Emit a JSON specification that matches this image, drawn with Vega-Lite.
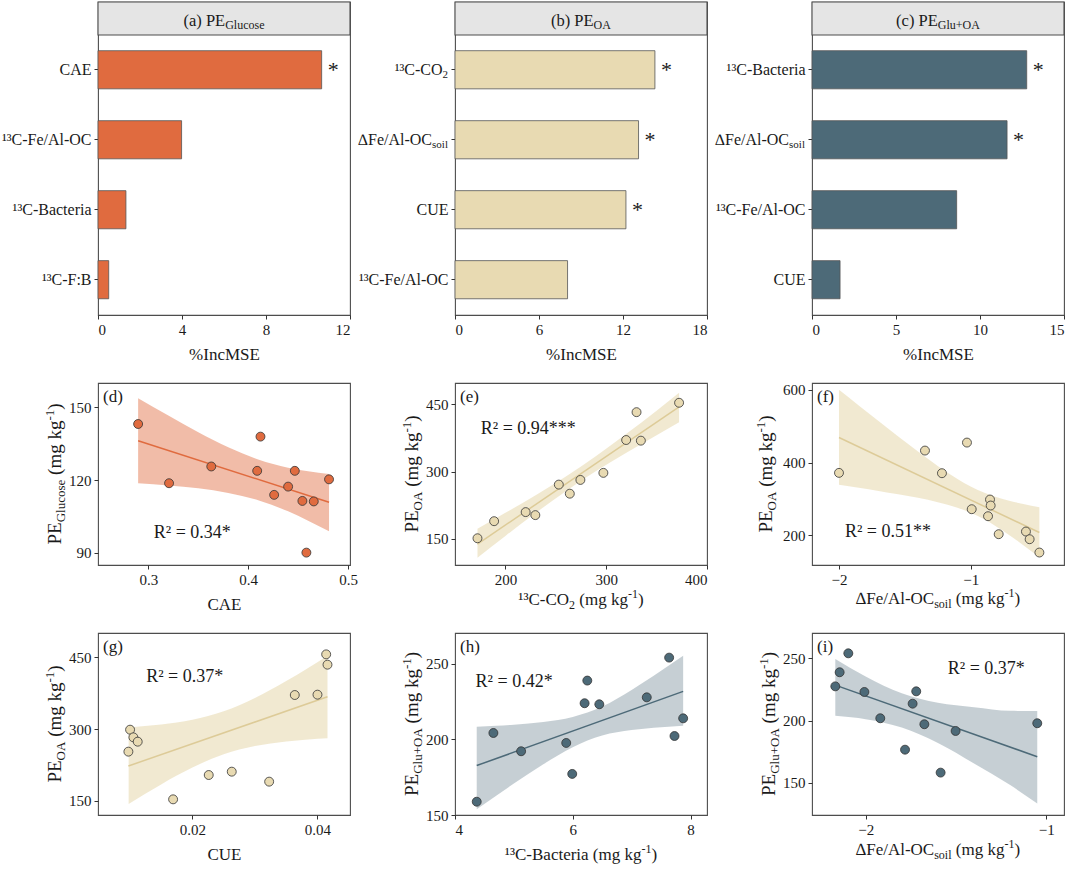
{
"$schema": "https://vega.github.io/schema/vega-lite/v6.json",
"background": "white",
"padding": {"left": 0, "top": 0, "right": 5, "bottom": 5},
"columns": 3,
"bounds": "flush",
"align": "each",
"spacing": {"row": 68, "column": 105},
"config": {
  "font": "Liberation Serif",
  "view": {"stroke": "#4d4d4d", "strokeWidth": 1.1},
  "axis": {"domain": false, "grid": false, "tickColor": "#333333", "tickSize": 4, "tickWidth": 1, "labelFontSize": 15, "labelColor": "#1a1a1a", "labelPadding": 3, "titleFontSize": 17, "titleFontWeight": "normal", "titleColor": "#1a1a1a", "titlePadding": 9},
  "text": {"color": "#1a1a1a"}
},
"concat": [
{
 "width": 252, "height": 313,
 "layer": [
  {"data": {"values": [{"t1": "(a) PE", "t2": "Glucose"}]},
   "layer": [
    {"mark": {"type": "rect", "fill": "#e5e5e5", "stroke": "#4d4d4d", "strokeWidth": 1.1},
     "encoding": {"x": {"datum": 0}, "x2": {"datum": 12}, "y": {"datum": 0, "scale": {"domain": [-8.485, 1], "nice": false, "zero": false}, "axis": null}, "y2": {"datum": 1}}},
    {"mark": {"type": "text", "align": "left", "baseline": "alphabetic", "fontSize": 16.5, "dx": -40.5, "dy": 7.5},
     "encoding": {"x": {"datum": 6}, "y": {"datum": 0.5}, "text": {"field": "t1"}}},
    {"mark": {"type": "text", "align": "left", "baseline": "alphabetic", "fontSize": 12, "dx": 1.2, "dy": 10.5},
     "encoding": {"x": {"datum": 6}, "y": {"datum": 0.5}, "text": {"field": "t2"}}}
   ]},
  {"data": {"values": [
     {"v": "CAE", "sub": "", "val": 10.65, "sig": "*"},
     {"v": "¹³C-Fe/Al-OC", "sub": "", "val": 3.98, "sig": ""},
     {"v": "¹³C-Bacteria", "sub": "", "val": 1.33, "sig": ""},
     {"v": "¹³C-F:B", "sub": "", "val": 0.51, "sig": ""}]},
   "layer": [
    {"encoding": {
       "x": {"field": "val", "type": "quantitative", "scale": {"domain": [0, 12], "nice": false}, "axis": {"values": [0, 4, 8, 12], "title": "%IncMSE"}},
       "y": {"field": "v", "type": "nominal", "scale": {"domain": ["CAE", "¹³C-Fe/Al-OC", "¹³C-Bacteria", "¹³C-F:B"], "paddingInner": 0.455, "paddingOuter": 0.464, "align": 0.75}, "axis": {"title": null, "orient": "left", "labelFontSize": 16}}
     },
     "layer": [
      {"mark": {"type": "bar", "fill": "#E06B3F", "stroke": "#555555", "strokeWidth": 0.8}},
      {"transform": [{"filter": "datum.sig != ''"}],
       "mark": {"type": "text", "align": "center", "baseline": "middle", "fontSize": 22, "dx": 11.5, "dy": 0.5},
       "encoding": {"text": {"field": "sig"}}}
     ]}
   ]}
 ],
 "resolve": {"scale": {"y": "independent"}}
},
{
 "width": 252, "height": 313,
 "layer": [
  {"data": {"values": [{"t1": "(b) PE", "t2": "OA"}]},
   "layer": [
    {"mark": {"type": "rect", "fill": "#e5e5e5", "stroke": "#4d4d4d", "strokeWidth": 1.1},
     "encoding": {"x": {"datum": 0}, "x2": {"datum": 18}, "y": {"datum": 0, "scale": {"domain": [-8.485, 1], "nice": false, "zero": false}, "axis": null}, "y2": {"datum": 1}}},
    {"mark": {"type": "text", "align": "left", "baseline": "alphabetic", "fontSize": 16.5, "dx": -30, "dy": 7.5},
     "encoding": {"x": {"datum": 9}, "y": {"datum": 0.5}, "text": {"field": "t1"}}},
    {"mark": {"type": "text", "align": "left", "baseline": "alphabetic", "fontSize": 12, "dx": 12.6, "dy": 10.5},
     "encoding": {"x": {"datum": 9}, "y": {"datum": 0.5}, "text": {"field": "t2"}}}
   ]},
  {"data": {"values": [
     {"v": "¹³C-CO", "sub": "2", "val": 14.28, "sig": "*"},
     {"v": "∆Fe/Al-OC", "sub": "soil", "val": 13.11, "sig": "*"},
     {"v": "CUE", "sub": "", "val": 12.21, "sig": "*"},
     {"v": "¹³C-Fe/Al-OC", "sub": "", "val": 8.04, "sig": ""}]},
   "layer": [
    {"encoding": {
       "x": {"field": "val", "type": "quantitative", "scale": {"domain": [0, 18], "nice": false}, "axis": {"values": [0, 6, 12, 18], "title": "%IncMSE"}},
       "y": {"field": "v", "type": "nominal", "scale": {"domain": ["¹³C-CO", "∆Fe/Al-OC", "CUE", "¹³C-Fe/Al-OC"], "paddingInner": 0.455, "paddingOuter": 0.464, "align": 0.75},
             "axis": {"title": null, "orient": "left", "labelFontSize": 16, "labelPadding": {"condition": [{"test": "datum.value === '∆Fe/Al-OC'", "value": 19.5}, {"test": "datum.value === '¹³C-CO'", "value": 9}], "value": 3}}}
     },
     "layer": [
      {"mark": {"type": "bar", "fill": "#E8DAB2", "stroke": "#555555", "strokeWidth": 0.8}},
      {"transform": [{"filter": "datum.sig != ''"}],
       "mark": {"type": "text", "align": "center", "baseline": "middle", "fontSize": 22, "dx": 11.5, "dy": 0.5},
       "encoding": {"text": {"field": "sig"}}}
     ]},
    {"transform": [{"filter": "datum.sub != ''"}],
     "mark": {"type": "text", "align": "right", "baseline": "middle", "fontSize": 11, "dx": -7, "dy": 5.5},
     "encoding": {"x": {"datum": 0}, "y": {"field": "v", "type": "nominal"}, "text": {"field": "sub"}}}
   ]}
 ],
 "resolve": {"scale": {"y": "independent"}}
},
{
 "width": 252, "height": 313,
 "layer": [
  {"data": {"values": [{"t1": "(c) PE", "t2": "Glu+OA"}]},
   "layer": [
    {"mark": {"type": "rect", "fill": "#e5e5e5", "stroke": "#4d4d4d", "strokeWidth": 1.1},
     "encoding": {"x": {"datum": 0}, "x2": {"datum": 15}, "y": {"datum": 0, "scale": {"domain": [-8.485, 1], "nice": false, "zero": false}, "axis": null}, "y2": {"datum": 1}}},
    {"mark": {"type": "text", "align": "left", "baseline": "alphabetic", "fontSize": 16.5, "dx": -41.9, "dy": 7.5},
     "encoding": {"x": {"datum": 7.5}, "y": {"datum": 0.5}, "text": {"field": "t1"}}},
    {"mark": {"type": "text", "align": "left", "baseline": "alphabetic", "fontSize": 12, "dx": -0.2, "dy": 10.5},
     "encoding": {"x": {"datum": 7.5}, "y": {"datum": 0.5}, "text": {"field": "t2"}}}
   ]},
  {"data": {"values": [
     {"v": "¹³C-Bacteria", "sub": "", "val": 12.78, "sig": "*"},
     {"v": "∆Fe/Al-OC", "sub": "soil", "val": 11.61, "sig": "*"},
     {"v": "¹³C-Fe/Al-OC", "sub": "", "val": 8.61, "sig": ""},
     {"v": "CUE", "sub": "", "val": 1.67, "sig": ""}]},
   "layer": [
    {"encoding": {
       "x": {"field": "val", "type": "quantitative", "scale": {"domain": [0, 15], "nice": false}, "axis": {"values": [0, 5, 10, 15], "title": "%IncMSE"}},
       "y": {"field": "v", "type": "nominal", "scale": {"domain": ["¹³C-Bacteria", "∆Fe/Al-OC", "¹³C-Fe/Al-OC", "CUE"], "paddingInner": 0.455, "paddingOuter": 0.464, "align": 0.75},
             "axis": {"title": null, "orient": "left", "labelFontSize": 16, "labelPadding": {"condition": [{"test": "datum.value === '∆Fe/Al-OC'", "value": 19.5}], "value": 3}}}
     },
     "layer": [
      {"mark": {"type": "bar", "fill": "#4D6A78", "stroke": "#555555", "strokeWidth": 0.8}},
      {"transform": [{"filter": "datum.sig != ''"}],
       "mark": {"type": "text", "align": "center", "baseline": "middle", "fontSize": 22, "dx": 11.5, "dy": 0.5},
       "encoding": {"text": {"field": "sig"}}}
     ]},
    {"transform": [{"filter": "datum.sub != ''"}],
     "mark": {"type": "text", "align": "right", "baseline": "middle", "fontSize": 11, "dx": -7, "dy": 5.5},
     "encoding": {"x": {"datum": 0}, "y": {"field": "v", "type": "nominal"}, "text": {"field": "sub"}}}
   ]}
 ],
 "resolve": {"scale": {"y": "independent"}}
},
{
 "width": 252, "height": 182,
 "layer": [
  {"encoding": {
     "x": {"field": "x", "type": "quantitative", "scale": {"domain": [0.2495, 0.502], "nice": false, "zero": false}, "axis": {"values": [0.3, 0.4, 0.5], "format": ".1f"}, "title": "CAE"},
     "y": {"field": "y", "type": "quantitative", "scale": {"domain": [85, 160], "nice": false, "zero": false}, "axis": {"values": [90, 120, 150]}, "title": null}
   },
   "layer": [
    {"data": {"values": [
      {"x": 0.2897, "y": 118.7, "hi": 153.7}, {"x": 0.32, "y": 117.8, "hi": 146.6}, {"x": 0.35, "y": 116.6, "hi": 139.7}, {"x": 0.38, "y": 114.7, "hi": 133.5},
      {"x": 0.41, "y": 111.7, "hi": 128.5}, {"x": 0.44, "y": 107.1, "hi": 125.1}, {"x": 0.46, "y": 103.2, "hi": 123.6}, {"x": 0.481, "y": 98.9, "hi": 122.5}]},
     "mark": {"type": "area", "color": "#E06B3F", "opacity": 0.45, "interpolate": "monotone"},
     "encoding": {"y2": {"field": "hi"}}},
    {"data": {"values": [
      {"x": 0.2897, "y": 143.1}, {"x": 0.3207, "y": 118.7}, {"x": 0.363, "y": 125.6}, {"x": 0.4123, "y": 137.9}, {"x": 0.409, "y": 123.8}, {"x": 0.426, "y": 113.9},
      {"x": 0.44, "y": 117.3}, {"x": 0.4467, "y": 123.8}, {"x": 0.4543, "y": 111.4}, {"x": 0.4657, "y": 111.2}, {"x": 0.481, "y": 120.3}, {"x": 0.4583, "y": 90.1}]},
     "layer": [
      {"transform": [{"regression": "y", "on": "x"}], "mark": {"type": "line", "color": "#E06B3F", "strokeWidth": 1.5}},
      {"mark": {"type": "circle", "fill": "#E06B3F", "stroke": "#333333", "strokeWidth": 0.8, "size": 80, "opacity": 1}}
     ]}
   ]},
  {"data": {"values": [{"t": "(d)"}]}, "mark": {"type": "text", "align": "left", "baseline": "top", "fontSize": 17, "dx": 5, "dy": 6}, "encoding": {"x": {"datum": 0.2495}, "y": {"datum": 160}, "text": {"field": "t"}}},
  {"data": {"values": [{"t": "R² = 0.34*"}]}, "mark": {"type": "text", "align": "center", "baseline": "middle", "fontSize": 18}, "encoding": {"x": {"datum": 0.344}, "y": {"datum": 98}, "text": {"field": "t"}}},
  {"data": {"values": [{"t": "PE"}]}, "mark": {"type": "text", "angle": 270, "align": "left", "baseline": "alphabetic", "fontSize": 19, "dx": -70.5, "dy": -37}, "encoding": {"x": {"datum": 0.2495}, "y": {"datum": 122.5}, "text": {"field": "t"}}},
  {"data": {"values": [{"t": "Glucose"}]}, "mark": {"type": "text", "angle": 270, "align": "left", "baseline": "alphabetic", "fontSize": 13, "dx": -48.3, "dy": -33}, "encoding": {"x": {"datum": 0.2495}, "y": {"datum": 122.5}, "text": {"field": "t"}}},
  {"data": {"values": [{"t": "(mg kg"}]}, "mark": {"type": "text", "angle": 270, "align": "left", "baseline": "alphabetic", "fontSize": 19, "dx": -0.95, "dy": -37}, "encoding": {"x": {"datum": 0.2495}, "y": {"datum": 122.5}, "text": {"field": "t"}}},
  {"data": {"values": [{"t": "-1"}]}, "mark": {"type": "text", "angle": 270, "align": "left", "baseline": "alphabetic", "fontSize": 13, "dx": 53.4, "dy": -44.5}, "encoding": {"x": {"datum": 0.2495}, "y": {"datum": 122.5}, "text": {"field": "t"}}},
  {"data": {"values": [{"t": ")"}]}, "mark": {"type": "text", "angle": 270, "align": "left", "baseline": "alphabetic", "fontSize": 19, "dx": 64.2, "dy": -37}, "encoding": {"x": {"datum": 0.2495}, "y": {"datum": 122.5}, "text": {"field": "t"}}}
 ]
},
{
 "width": 252, "height": 182,
 "layer": [
  {"encoding": {
     "x": {"field": "x", "type": "quantitative", "scale": {"domain": [150, 400], "nice": false, "zero": false}, "axis": {"values": [200, 300, 400]}, "title": null},
     "y": {"field": "y", "type": "quantitative", "scale": {"domain": [92, 497], "nice": false, "zero": false}, "axis": {"values": [150, 300, 450]}, "title": null}
   },
   "layer": [
    {"data": {"values": [
      {"x": 172.3, "y": 108.2, "hi": 172.4}, {"x": 200, "y": 156.8, "hi": 208.0}, {"x": 230, "y": 207.8, "hi": 247.2}, {"x": 260, "y": 256.3, "hi": 288.9},
      {"x": 290, "y": 300.9, "hi": 334.5}, {"x": 320, "y": 341.8, "hi": 383.8}, {"x": 350, "y": 380.6, "hi": 435.2}, {"x": 372.3, "y": 409.9, "hi": 475.1}]},
     "mark": {"type": "area", "color": "#E8DAB2", "opacity": 0.6, "interpolate": "monotone"},
     "encoding": {"y2": {"field": "hi"}}},
    {"data": {"values": [
      {"x": 172.3, "y": 151.5}, {"x": 188.8, "y": 189.5}, {"x": 220.1, "y": 209.7}, {"x": 229.7, "y": 203.0}, {"x": 253.0, "y": 270.9}, {"x": 263.9, "y": 250.7},
      {"x": 274.4, "y": 281.3}, {"x": 297.2, "y": 297.0}, {"x": 319.8, "y": 370.1}, {"x": 330.1, "y": 432.1}, {"x": 334.4, "y": 368.7}, {"x": 372.3, "y": 453.0}]},
     "layer": [
      {"transform": [{"regression": "y", "on": "x"}], "mark": {"type": "line", "color": "#DDCB98", "strokeWidth": 1.5}},
      {"mark": {"type": "circle", "fill": "#E8DAB2", "stroke": "#333333", "strokeWidth": 0.8, "size": 80, "opacity": 1}}
     ]}
   ]},
  {"data": {"values": [{"t": "(e)"}]}, "mark": {"type": "text", "align": "left", "baseline": "top", "fontSize": 17, "dx": 5, "dy": 6}, "encoding": {"x": {"datum": 150}, "y": {"datum": 497}, "text": {"field": "t"}}},
  {"data": {"values": [{"t": "R² = 0.94***"}]}, "mark": {"type": "text", "align": "center", "baseline": "middle", "fontSize": 18}, "encoding": {"x": {"datum": 222.7}, "y": {"datum": 395.5}, "text": {"field": "t"}}},
  {"data": {"values": [{"t": "¹³C-CO"}]}, "mark": {"type": "text", "align": "left", "baseline": "alphabetic", "fontSize": 17, "dx": -62.7, "dy": 40}, "encoding": {"x": {"datum": 275}, "y": {"datum": 92}, "text": {"field": "t"}}},
  {"data": {"values": [{"t": "2"}]}, "mark": {"type": "text", "align": "left", "baseline": "alphabetic", "fontSize": 12, "dx": -11.9, "dy": 44}, "encoding": {"x": {"datum": 275}, "y": {"datum": 92}, "text": {"field": "t"}}},
  {"data": {"values": [{"t": "(mg kg"}]}, "mark": {"type": "text", "align": "left", "baseline": "alphabetic", "fontSize": 17, "dx": -1.65, "dy": 40}, "encoding": {"x": {"datum": 275}, "y": {"datum": 92}, "text": {"field": "t"}}},
  {"data": {"values": [{"t": "-1"}]}, "mark": {"type": "text", "align": "left", "baseline": "alphabetic", "fontSize": 12, "dx": 47, "dy": 33}, "encoding": {"x": {"datum": 275}, "y": {"datum": 92}, "text": {"field": "t"}}},
  {"data": {"values": [{"t": ")"}]}, "mark": {"type": "text", "align": "left", "baseline": "alphabetic", "fontSize": 17, "dx": 57, "dy": 40}, "encoding": {"x": {"datum": 275}, "y": {"datum": 92}, "text": {"field": "t"}}},
  {"data": {"values": [{"t": "PE"}]}, "mark": {"type": "text", "angle": 270, "align": "left", "baseline": "alphabetic", "fontSize": 19, "dx": -58.6, "dy": -37}, "encoding": {"x": {"datum": 150}, "y": {"datum": 294.5}, "text": {"field": "t"}}},
  {"data": {"values": [{"t": "OA"}]}, "mark": {"type": "text", "angle": 270, "align": "left", "baseline": "alphabetic", "fontSize": 13, "dx": -36.4, "dy": -33}, "encoding": {"x": {"datum": 150}, "y": {"datum": 294.5}, "text": {"field": "t"}}},
  {"data": {"values": [{"t": "(mg kg"}]}, "mark": {"type": "text", "angle": 270, "align": "left", "baseline": "alphabetic", "fontSize": 19, "dx": -12.85, "dy": -37}, "encoding": {"x": {"datum": 150}, "y": {"datum": 294.5}, "text": {"field": "t"}}},
  {"data": {"values": [{"t": "-1"}]}, "mark": {"type": "text", "angle": 270, "align": "left", "baseline": "alphabetic", "fontSize": 13, "dx": 41.5, "dy": -44.5}, "encoding": {"x": {"datum": 150}, "y": {"datum": 294.5}, "text": {"field": "t"}}},
  {"data": {"values": [{"t": ")"}]}, "mark": {"type": "text", "angle": 270, "align": "left", "baseline": "alphabetic", "fontSize": 19, "dx": 52.3, "dy": -37}, "encoding": {"x": {"datum": 150}, "y": {"datum": 294.5}, "text": {"field": "t"}}}
 ]
},
{
 "width": 252, "height": 182,
 "layer": [
  {"encoding": {
     "x": {"field": "x", "type": "quantitative", "scale": {"domain": [-2.205, -0.291], "nice": false, "zero": false}, "axis": {"values": [-2, -1], "format": "d"}, "title": null},
     "y": {"field": "y", "type": "quantitative", "scale": {"domain": [118, 619], "nice": false, "zero": false}, "axis": {"values": [200, 400, 600]}, "title": null}
   },
   "layer": [
    {"data": {"values": [
      {"x": -2.0, "y": 339.0, "hi": 600.4}, {"x": -1.85, "y": 330.6, "hi": 557.2}, {"x": -1.7, "y": 322.0, "hi": 514.4}, {"x": -1.55, "y": 312.8, "hi": 472.0},
      {"x": -1.4, "y": 302.8, "hi": 430.6}, {"x": -1.25, "y": 291.0, "hi": 390.8}, {"x": -1.1, "y": 275.8, "hi": 354.6}, {"x": -1.0, "y": 262.0, "hi": 334.0},
      {"x": -0.9, "y": 244.3, "hi": 317.3}, {"x": -0.8, "y": 222.9, "hi": 304.5}, {"x": -0.7, "y": 198.8, "hi": 294.2}, {"x": -0.6, "y": 172.7, "hi": 285.9},
      {"x": -0.478, "y": 139.5, "hi": 277.1}]},
     "mark": {"type": "area", "color": "#E8DAB2", "opacity": 0.6, "interpolate": "monotone"},
     "encoding": {"y2": {"field": "hi"}}},
    {"data": {"values": [
      {"x": -2.0, "y": 371.6}, {"x": -1.347, "y": 433.0}, {"x": -1.218, "y": 370.7}, {"x": -1.028, "y": 455.0}, {"x": -0.992, "y": 271.6}, {"x": -0.853, "y": 298.2},
      {"x": -0.848, "y": 281.7}, {"x": -0.868, "y": 252.3}, {"x": -0.787, "y": 202.8}, {"x": -0.58, "y": 210.1}, {"x": -0.552, "y": 189.0}, {"x": -0.478, "y": 152.3}]},
     "layer": [
      {"transform": [{"regression": "y", "on": "x"}], "mark": {"type": "line", "color": "#DDCB98", "strokeWidth": 1.5}},
      {"mark": {"type": "circle", "fill": "#E8DAB2", "stroke": "#333333", "strokeWidth": 0.8, "size": 80, "opacity": 1}}
     ]}
   ]},
  {"data": {"values": [{"t": "(f)"}]}, "mark": {"type": "text", "align": "left", "baseline": "top", "fontSize": 17, "dx": 5, "dy": 6}, "encoding": {"x": {"datum": -2.205}, "y": {"datum": 619}, "text": {"field": "t"}}},
  {"data": {"values": [{"t": "R² = 0.51**"}]}, "mark": {"type": "text", "align": "center", "baseline": "middle", "fontSize": 18}, "encoding": {"x": {"datum": -1.628}, "y": {"datum": 208.3}, "text": {"field": "t"}}},
  {"data": {"values": [{"t": "∆Fe/Al-OC"}]}, "mark": {"type": "text", "align": "left", "baseline": "alphabetic", "fontSize": 17, "dx": -82.2, "dy": 39}, "encoding": {"x": {"datum": -1.248}, "y": {"datum": 118}, "text": {"field": "t"}}},
  {"data": {"values": [{"t": "soil"}]}, "mark": {"type": "text", "align": "left", "baseline": "alphabetic", "fontSize": 12, "dx": -3.8, "dy": 43}, "encoding": {"x": {"datum": -1.248}, "y": {"datum": 118}, "text": {"field": "t"}}},
  {"data": {"values": [{"t": "(mg kg"}]}, "mark": {"type": "text", "align": "left", "baseline": "alphabetic", "fontSize": 17, "dx": 17.75, "dy": 39}, "encoding": {"x": {"datum": -1.248}, "y": {"datum": 118}, "text": {"field": "t"}}},
  {"data": {"values": [{"t": "-1"}]}, "mark": {"type": "text", "align": "left", "baseline": "alphabetic", "fontSize": 12, "dx": 66.4, "dy": 32}, "encoding": {"x": {"datum": -1.248}, "y": {"datum": 118}, "text": {"field": "t"}}},
  {"data": {"values": [{"t": ")"}]}, "mark": {"type": "text", "align": "left", "baseline": "alphabetic", "fontSize": 17, "dx": 76.4, "dy": 39}, "encoding": {"x": {"datum": -1.248}, "y": {"datum": 118}, "text": {"field": "t"}}},
  {"data": {"values": [{"t": "PE"}]}, "mark": {"type": "text", "angle": 270, "align": "left", "baseline": "alphabetic", "fontSize": 19, "dx": -58.6, "dy": -40}, "encoding": {"x": {"datum": -2.205}, "y": {"datum": 368.5}, "text": {"field": "t"}}},
  {"data": {"values": [{"t": "OA"}]}, "mark": {"type": "text", "angle": 270, "align": "left", "baseline": "alphabetic", "fontSize": 13, "dx": -36.4, "dy": -36}, "encoding": {"x": {"datum": -2.205}, "y": {"datum": 368.5}, "text": {"field": "t"}}},
  {"data": {"values": [{"t": "(mg kg"}]}, "mark": {"type": "text", "angle": 270, "align": "left", "baseline": "alphabetic", "fontSize": 19, "dx": -12.85, "dy": -40}, "encoding": {"x": {"datum": -2.205}, "y": {"datum": 368.5}, "text": {"field": "t"}}},
  {"data": {"values": [{"t": "-1"}]}, "mark": {"type": "text", "angle": 270, "align": "left", "baseline": "alphabetic", "fontSize": 13, "dx": 41.5, "dy": -47.5}, "encoding": {"x": {"datum": -2.205}, "y": {"datum": 368.5}, "text": {"field": "t"}}},
  {"data": {"values": [{"t": ")"}]}, "mark": {"type": "text", "angle": 270, "align": "left", "baseline": "alphabetic", "fontSize": 19, "dx": 52.3, "dy": -40}, "encoding": {"x": {"datum": -2.205}, "y": {"datum": 368.5}, "text": {"field": "t"}}}
 ]
},
{
 "width": 252, "height": 182,
 "layer": [
  {"encoding": {
     "x": {"field": "x", "type": "quantitative", "scale": {"domain": [0.0049, 0.0452], "nice": false, "zero": false}, "axis": {"values": [0.02, 0.04], "format": ".2f"}, "title": "CUE"},
     "y": {"field": "y", "type": "quantitative", "scale": {"domain": [120, 501], "nice": false, "zero": false}, "axis": {"values": [150, 300, 450]}, "title": null}
   },
   "layer": [
    {"data": {"values": [
      {"x": 0.0098, "y": 142.9, "hi": 303.7}, {"x": 0.0124, "y": 163.8, "hi": 306.2}, {"x": 0.015, "y": 184.1, "hi": 309.5}, {"x": 0.0175, "y": 202.5, "hi": 313.7},
      {"x": 0.02, "y": 219.5, "hi": 319.3}, {"x": 0.025, "y": 247.0, "hi": 337.0}, {"x": 0.03, "y": 264.4, "hi": 364.8}, {"x": 0.035, "y": 274.0, "hi": 400.4},
      {"x": 0.0385, "y": 278.2, "hi": 427.8}, {"x": 0.0416, "y": 280.7, "hi": 453.3}]},
     "mark": {"type": "area", "color": "#E8DAB2", "opacity": 0.6, "interpolate": "monotone"},
     "encoding": {"y2": {"field": "hi"}}},
    {"data": {"values": [
      {"x": 0.01003, "y": 298.6}, {"x": 0.01056, "y": 282.6}, {"x": 0.01125, "y": 273.5}, {"x": 0.00976, "y": 252.6}, {"x": 0.01691, "y": 152.8}, {"x": 0.02261, "y": 203.7},
      {"x": 0.02629, "y": 210.7}, {"x": 0.03227, "y": 189.8}, {"x": 0.03637, "y": 371.2}, {"x": 0.04, "y": 371.9}, {"x": 0.04139, "y": 456.3}, {"x": 0.0416, "y": 434.7}]},
     "layer": [
      {"transform": [{"regression": "y", "on": "x"}], "mark": {"type": "line", "color": "#DDCB98", "strokeWidth": 1.5}},
      {"mark": {"type": "circle", "fill": "#E8DAB2", "stroke": "#333333", "strokeWidth": 0.8, "size": 80, "opacity": 1}}
     ]}
   ]},
  {"data": {"values": [{"t": "(g)"}]}, "mark": {"type": "text", "align": "left", "baseline": "top", "fontSize": 17, "dx": 5, "dy": 6}, "encoding": {"x": {"datum": 0.0049}, "y": {"datum": 501}, "text": {"field": "t"}}},
  {"data": {"values": [{"t": "R² = 0.37*"}]}, "mark": {"type": "text", "align": "center", "baseline": "middle", "fontSize": 18}, "encoding": {"x": {"datum": 0.01877}, "y": {"datum": 408.1}, "text": {"field": "t"}}},
  {"data": {"values": [{"t": "PE"}]}, "mark": {"type": "text", "angle": 270, "align": "left", "baseline": "alphabetic", "fontSize": 19, "dx": -58.6, "dy": -37}, "encoding": {"x": {"datum": 0.0049}, "y": {"datum": 310.5}, "text": {"field": "t"}}},
  {"data": {"values": [{"t": "OA"}]}, "mark": {"type": "text", "angle": 270, "align": "left", "baseline": "alphabetic", "fontSize": 13, "dx": -36.4, "dy": -33}, "encoding": {"x": {"datum": 0.0049}, "y": {"datum": 310.5}, "text": {"field": "t"}}},
  {"data": {"values": [{"t": "(mg kg"}]}, "mark": {"type": "text", "angle": 270, "align": "left", "baseline": "alphabetic", "fontSize": 19, "dx": -12.85, "dy": -37}, "encoding": {"x": {"datum": 0.0049}, "y": {"datum": 310.5}, "text": {"field": "t"}}},
  {"data": {"values": [{"t": "-1"}]}, "mark": {"type": "text", "angle": 270, "align": "left", "baseline": "alphabetic", "fontSize": 13, "dx": 41.5, "dy": -44.5}, "encoding": {"x": {"datum": 0.0049}, "y": {"datum": 310.5}, "text": {"field": "t"}}},
  {"data": {"values": [{"t": ")"}]}, "mark": {"type": "text", "angle": 270, "align": "left", "baseline": "alphabetic", "fontSize": 19, "dx": 52.3, "dy": -37}, "encoding": {"x": {"datum": 0.0049}, "y": {"datum": 310.5}, "text": {"field": "t"}}}
 ]
},
{
 "width": 252, "height": 182,
 "layer": [
  {"encoding": {
     "x": {"field": "x", "type": "quantitative", "scale": {"domain": [4, 8.28], "nice": false, "zero": false}, "axis": {"values": [4, 6, 8], "format": "d"}, "title": null},
     "y": {"field": "y", "type": "quantitative", "scale": {"domain": [150, 270.5], "nice": false, "zero": false}, "axis": {"values": [150, 200, 250]}, "title": null}
   },
   "layer": [
    {"data": {"values": [
      {"x": 4.369, "y": 153.8, "hi": 208.4}, {"x": 4.7, "y": 162.7, "hi": 209.1}, {"x": 5.0, "y": 170.8, "hi": 209.8}, {"x": 5.5, "y": 183.6, "hi": 211.6},
      {"x": 6.0, "y": 194.9, "hi": 214.9}, {"x": 6.5, "y": 202.6, "hi": 221.8}, {"x": 7.0, "y": 206.2, "hi": 232.8}, {"x": 7.5, "y": 208.1, "hi": 245.5},
      {"x": 7.875, "y": 209.1, "hi": 255.5}]},
     "mark": {"type": "area", "color": "#4D6A78", "opacity": 0.32, "interpolate": "monotone"},
     "encoding": {"y2": {"field": "hi"}}},
    {"data": {"values": [
      {"x": 4.369, "y": 158.8}, {"x": 4.652, "y": 204.3}, {"x": 5.123, "y": 192.2}, {"x": 5.889, "y": 197.7}, {"x": 5.991, "y": 177.2}, {"x": 6.201, "y": 224.0},
      {"x": 6.247, "y": 239.0}, {"x": 6.451, "y": 223.3}, {"x": 7.257, "y": 227.9}, {"x": 7.637, "y": 254.2}, {"x": 7.728, "y": 202.3}, {"x": 7.875, "y": 214.0}]},
     "layer": [
      {"transform": [{"regression": "y", "on": "x"}], "mark": {"type": "line", "color": "#4D6A78", "strokeWidth": 1.5}},
      {"mark": {"type": "circle", "fill": "#4D6A78", "stroke": "#333333", "strokeWidth": 0.8, "size": 80, "opacity": 1}}
     ]}
   ]},
  {"data": {"values": [{"t": "(h)"}]}, "mark": {"type": "text", "align": "left", "baseline": "top", "fontSize": 17, "dx": 5, "dy": 6}, "encoding": {"x": {"datum": 4}, "y": {"datum": 270.5}, "text": {"field": "t"}}},
  {"data": {"values": [{"t": "R² = 0.42*"}]}, "mark": {"type": "text", "align": "center", "baseline": "middle", "fontSize": 18}, "encoding": {"x": {"datum": 5.004}, "y": {"datum": 237.9}, "text": {"field": "t"}}},
  {"data": {"values": [{"t": "¹³C-Bacteria"}]}, "mark": {"type": "text", "align": "left", "baseline": "alphabetic", "fontSize": 17, "dx": -76.2, "dy": 45}, "encoding": {"x": {"datum": 6.14}, "y": {"datum": 150}, "text": {"field": "t"}}},
  {"data": {"values": [{"t": "(mg kg"}]}, "mark": {"type": "text", "align": "left", "baseline": "alphabetic", "fontSize": 17, "dx": 11.85, "dy": 45}, "encoding": {"x": {"datum": 6.14}, "y": {"datum": 150}, "text": {"field": "t"}}},
  {"data": {"values": [{"t": "-1"}]}, "mark": {"type": "text", "align": "left", "baseline": "alphabetic", "fontSize": 12, "dx": 60.5, "dy": 38}, "encoding": {"x": {"datum": 6.14}, "y": {"datum": 150}, "text": {"field": "t"}}},
  {"data": {"values": [{"t": ")"}]}, "mark": {"type": "text", "align": "left", "baseline": "alphabetic", "fontSize": 17, "dx": 70.5, "dy": 45}, "encoding": {"x": {"datum": 6.14}, "y": {"datum": 150}, "text": {"field": "t"}}},
  {"data": {"values": [{"t": "PE"}]}, "mark": {"type": "text", "angle": 270, "align": "left", "baseline": "alphabetic", "fontSize": 19, "dx": -72, "dy": -37}, "encoding": {"x": {"datum": 4}, "y": {"datum": 210.25}, "text": {"field": "t"}}},
  {"data": {"values": [{"t": "Glu+OA"}]}, "mark": {"type": "text", "angle": 270, "align": "left", "baseline": "alphabetic", "fontSize": 13, "dx": -49.8, "dy": -33}, "encoding": {"x": {"datum": 4}, "y": {"datum": 210.25}, "text": {"field": "t"}}},
  {"data": {"values": [{"t": "(mg kg"}]}, "mark": {"type": "text", "angle": 270, "align": "left", "baseline": "alphabetic", "fontSize": 19, "dx": 0.55, "dy": -37}, "encoding": {"x": {"datum": 4}, "y": {"datum": 210.25}, "text": {"field": "t"}}},
  {"data": {"values": [{"t": "-1"}]}, "mark": {"type": "text", "angle": 270, "align": "left", "baseline": "alphabetic", "fontSize": 13, "dx": 54.9, "dy": -44.5}, "encoding": {"x": {"datum": 4}, "y": {"datum": 210.25}, "text": {"field": "t"}}},
  {"data": {"values": [{"t": ")"}]}, "mark": {"type": "text", "angle": 270, "align": "left", "baseline": "alphabetic", "fontSize": 19, "dx": 65.7, "dy": -37}, "encoding": {"x": {"datum": 4}, "y": {"datum": 210.25}, "text": {"field": "t"}}}
 ]
},
{
 "width": 252, "height": 182,
 "layer": [
  {"encoding": {
     "x": {"field": "x", "type": "quantitative", "scale": {"domain": [-2.297, -0.902], "nice": false, "zero": false}, "axis": {"values": [-2, -1], "format": "d"}, "title": null},
     "y": {"field": "y", "type": "quantitative", "scale": {"domain": [124.3, 270.3], "nice": false, "zero": false}, "axis": {"values": [150, 200, 250]}, "title": null}
   },
   "layer": [
    {"data": {"values": [
      {"x": -2.168, "y": 204.0, "hi": 249.5}, {"x": -2.08, "y": 202.7, "hi": 241.9}, {"x": -2.0, "y": 201.2, "hi": 235.4}, {"x": -1.9, "y": 198.4, "hi": 228.0},
      {"x": -1.8, "y": 194.4, "hi": 222.0}, {"x": -1.6, "y": 182.0, "hi": 214.4}, {"x": -1.4, "y": 165.6, "hi": 210.8}, {"x": -1.2, "y": 148.3, "hi": 207.9},
      {"x": -1.05, "y": 133.6, "hi": 207.7}]},
     "mark": {"type": "area", "color": "#4D6A78", "opacity": 0.32, "interpolate": "monotone"},
     "encoding": {"y2": {"field": "hi"}}},
    {"data": {"values": [
      {"x": -2.168, "y": 227.5}, {"x": -2.144, "y": 238.8}, {"x": -2.096, "y": 254.0}, {"x": -2.007, "y": 223.0}, {"x": -1.919, "y": 201.9}, {"x": -1.782, "y": 176.7},
      {"x": -1.74, "y": 213.6}, {"x": -1.72, "y": 223.5}, {"x": -1.675, "y": 197.1}, {"x": -1.585, "y": 158.3}, {"x": -1.502, "y": 191.7}, {"x": -1.05, "y": 197.9}]},
     "layer": [
      {"transform": [{"regression": "y", "on": "x"}], "mark": {"type": "line", "color": "#4D6A78", "strokeWidth": 1.5}},
      {"mark": {"type": "circle", "fill": "#4D6A78", "stroke": "#333333", "strokeWidth": 0.8, "size": 80, "opacity": 1}}
     ]}
   ]},
  {"data": {"values": [{"t": "(i)"}]}, "mark": {"type": "text", "align": "left", "baseline": "top", "fontSize": 17, "dx": 5, "dy": 6}, "encoding": {"x": {"datum": -2.297}, "y": {"datum": 270.3}, "text": {"field": "t"}}},
  {"data": {"values": [{"t": "R² = 0.37*"}]}, "mark": {"type": "text", "align": "center", "baseline": "middle", "fontSize": 18}, "encoding": {"x": {"datum": -1.332}, "y": {"datum": 241.4}, "text": {"field": "t"}}},
  {"data": {"values": [{"t": "∆Fe/Al-OC"}]}, "mark": {"type": "text", "align": "left", "baseline": "alphabetic", "fontSize": 17, "dx": -82.2, "dy": 40}, "encoding": {"x": {"datum": -1.5995}, "y": {"datum": 124.3}, "text": {"field": "t"}}},
  {"data": {"values": [{"t": "soil"}]}, "mark": {"type": "text", "align": "left", "baseline": "alphabetic", "fontSize": 12, "dx": -3.8, "dy": 44}, "encoding": {"x": {"datum": -1.5995}, "y": {"datum": 124.3}, "text": {"field": "t"}}},
  {"data": {"values": [{"t": "(mg kg"}]}, "mark": {"type": "text", "align": "left", "baseline": "alphabetic", "fontSize": 17, "dx": 17.75, "dy": 40}, "encoding": {"x": {"datum": -1.5995}, "y": {"datum": 124.3}, "text": {"field": "t"}}},
  {"data": {"values": [{"t": "-1"}]}, "mark": {"type": "text", "align": "left", "baseline": "alphabetic", "fontSize": 12, "dx": 66.4, "dy": 33}, "encoding": {"x": {"datum": -1.5995}, "y": {"datum": 124.3}, "text": {"field": "t"}}},
  {"data": {"values": [{"t": ")"}]}, "mark": {"type": "text", "align": "left", "baseline": "alphabetic", "fontSize": 17, "dx": 76.4, "dy": 40}, "encoding": {"x": {"datum": -1.5995}, "y": {"datum": 124.3}, "text": {"field": "t"}}},
  {"data": {"values": [{"t": "PE"}]}, "mark": {"type": "text", "angle": 270, "align": "left", "baseline": "alphabetic", "fontSize": 19, "dx": -72, "dy": -37}, "encoding": {"x": {"datum": -2.297}, "y": {"datum": 197.3}, "text": {"field": "t"}}},
  {"data": {"values": [{"t": "Glu+OA"}]}, "mark": {"type": "text", "angle": 270, "align": "left", "baseline": "alphabetic", "fontSize": 13, "dx": -49.8, "dy": -33}, "encoding": {"x": {"datum": -2.297}, "y": {"datum": 197.3}, "text": {"field": "t"}}},
  {"data": {"values": [{"t": "(mg kg"}]}, "mark": {"type": "text", "angle": 270, "align": "left", "baseline": "alphabetic", "fontSize": 19, "dx": 0.55, "dy": -37}, "encoding": {"x": {"datum": -2.297}, "y": {"datum": 197.3}, "text": {"field": "t"}}},
  {"data": {"values": [{"t": "-1"}]}, "mark": {"type": "text", "angle": 270, "align": "left", "baseline": "alphabetic", "fontSize": 13, "dx": 54.9, "dy": -44.5}, "encoding": {"x": {"datum": -2.297}, "y": {"datum": 197.3}, "text": {"field": "t"}}},
  {"data": {"values": [{"t": ")"}]}, "mark": {"type": "text", "angle": 270, "align": "left", "baseline": "alphabetic", "fontSize": 19, "dx": 65.7, "dy": -37}, "encoding": {"x": {"datum": -2.297}, "y": {"datum": 197.3}, "text": {"field": "t"}}}
 ]
}
]
}
